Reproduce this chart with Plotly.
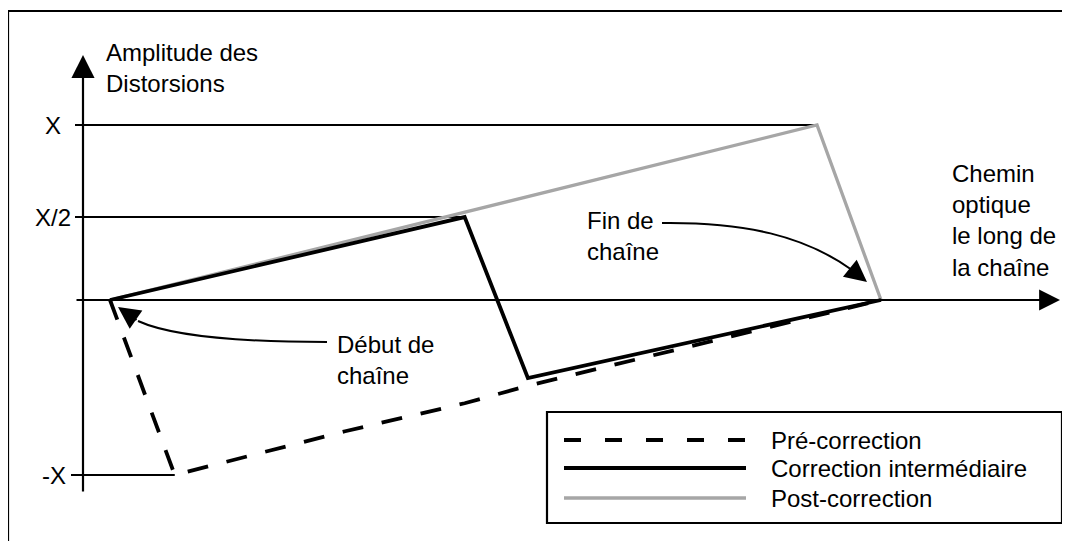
import plotly.graph_objects as go

# ── données (chemin optique : 0 = début de chaîne, 10 = fin de chaîne ; X = 1) ──
CHAIN_PRE = [0, 0.84, 3.05, 4.60, 5.42, 10]
AMP_PRE = [0, -1.0, -0.75, -0.59, -0.49, 0]

CHAIN_MID = [0, 4.60, 5.42, 10]
AMP_MID = [0, 0.474, -0.446, 0]

CHAIN_POST = [0, 9.17, 10]
AMP_POST = [0, 1.0, 0]

SERIES = ["Pré-correction", "Correction intermédiaire", "Post-correction"]
TICK_VALS = [1.0, 0.474, -1.0]
TICK_TEXT = ["X", "X/2", "-X"]

# ── mise en page (positions en pixels de la page) ──────────────────────────
PAGE = 8                   # marge par défaut du <body>
W, H = 1070 - PAGE, 541 - PAGE
ORIG_X, UX = 110, 77.1     # pixel de l'origine de la chaîne, px par unité
ORIG_Y, UY = 300, 175      # pixel de l'amplitude nulle, px par unité
FONT = "Arial, 'Liberation Sans', sans-serif"
NOIR = "#000000"
GRIS = "#A6A6A6"
FS = 24

STYLE_PRE = dict(color=NOIR, width=3.8, dash="21px,19px")
STYLE_MID = dict(color=NOIR, width=3.8)
STYLE_POST = dict(color=GRIS, width=3.3)


def dx(px):
    return (px - ORIG_X) / UX


def dy(py):
    return (ORIG_Y - py) / UY


fig = go.Figure()
fig.add_scatter(x=CHAIN_POST, y=AMP_POST, mode="lines", name=SERIES[2], line=STYLE_POST)
fig.add_scatter(x=CHAIN_PRE, y=AMP_PRE, mode="lines", name=SERIES[0], line=STYLE_PRE)
fig.add_scatter(x=CHAIN_MID, y=AMP_MID, mode="lines", name=SERIES[1], line=STYLE_MID)

shapes = []
# lignes de repère X, X/2, -X (du trait de graduation jusqu'au sommet)
ends = [CHAIN_POST[1], CHAIN_MID[1], CHAIN_PRE[1]]
starts = [dx(75), dx(75), dx(71)]
for v, x0, x1 in zip(TICK_VALS, starts, ends):
    shapes.append(dict(type="line", xref="x", yref="y", x0=x0, x1=x1, y0=v, y1=v,
                       line=dict(color=NOIR, width=2), layer="below"))

# cadre extérieur (coupé à droite et en bas)
shapes.append(dict(type="rect", xref="x", yref="y",
                   x0=dx(8), x1=dx(1100), y0=dy(570), y1=dy(11),
                   line=dict(color=NOIR, width=2.2)))

# flèches courbes
shapes.append(dict(type="path", xref="x", yref="y",
                   path=f"M{dx(662)},{dy(223)} C{dx(745)},{dy(222)} {dx(805)},{dy(236)} {dx(852)},{dy(270)}",
                   line=dict(color=NOIR, width=2)))
shapes.append(dict(type="path", xref="x", yref="y",
                   path=f"M{dx(327)},{dy(342)} C{dx(250)},{dy(342)} {dx(175)},{dy(338)} {dx(138)},{dy(321)}",
                   line=dict(color=NOIR, width=2)))

# légende dessinée
shapes.append(dict(type="rect", xref="x", yref="y",
                   x0=dx(547), x1=dx(1062), y0=dy(523), y1=dy(412),
                   line=dict(color=NOIR, width=2.2), fillcolor="white", layer="below"))
legend_rows = [(SERIES[0], dy(440), dict(STYLE_PRE, dash="17px,24px")),
               (SERIES[1], dy(468), STYLE_MID),
               (SERIES[2], dy(498), STYLE_POST)]
for _, yy, ln in legend_rows:
    shapes.append(dict(type="line", xref="x", yref="y", x0=dx(564), x1=dx(746),
                       y0=yy, y1=yy, line=ln))

txt = dict(showarrow=False, font=dict(family=FONT, size=FS, color=NOIR),
           xref="x", yref="y", align="left")
annotations = []
for lab, yy, _ in legend_rows:
    annotations.append(dict(text=lab, x=dx(769), y=yy, xanchor="left", yanchor="middle", **txt))

for lab, v, xr in zip(TICK_TEXT, TICK_VALS, [63, 73, 68]):
    annotations.append(dict(text=lab, x=dx(xr), y=v, xanchor="right", yanchor="middle", **txt))

annotations += [
    dict(text="Amplitude des<br>Distorsions", x=dx(104), y=dy(68),
         xanchor="left", yanchor="middle", **txt),
    dict(text="Chemin<br>optique<br>le long de<br>la chaîne", x=dx(950), y=dy(220),
         xanchor="left", yanchor="middle", **txt),
    dict(text="Fin de<br>chaîne", x=dx(585), y=dy(236),
         xanchor="left", yanchor="middle", **txt),
    dict(text="Début de<br>chaîne", x=dx(335), y=dy(360),
         xanchor="left", yanchor="middle", **txt),
]

arrow = dict(text="", showarrow=True, xref="x", yref="y", axref="x", ayref="y",
             arrowhead=2, arrowcolor=NOIR)
annotations += [
    # axes
    dict(x=dx(83), y=dy(55), ax=dx(83), ay=dy(493), arrowwidth=2.2, arrowsize=2.1, **arrow),
    dict(x=dx(1060), y=0, ax=dx(75), ay=0, arrowwidth=2.2, arrowsize=1.9, **arrow),
    # têtes des flèches courbes
    dict(x=dx(867), y=dy(282), ax=dx(852), ay=dy(270), arrowwidth=2, arrowsize=2.2, **arrow),
    dict(x=dx(118), y=dy(307), ax=dx(138), ay=dy(321), arrowwidth=2, arrowsize=2.2, **arrow),
]

fig.update_layout(
    width=W, height=H, margin=dict(l=0, r=0, t=0, b=0),
    paper_bgcolor="white", plot_bgcolor="white", showlegend=False,
    xaxis=dict(range=[dx(PAGE), dx(PAGE + W)], visible=False, fixedrange=True),
    yaxis=dict(range=[dy(PAGE + H), dy(PAGE)], visible=False, fixedrange=True),
    shapes=shapes, annotations=annotations,
)

fig.write_html("out.html")
